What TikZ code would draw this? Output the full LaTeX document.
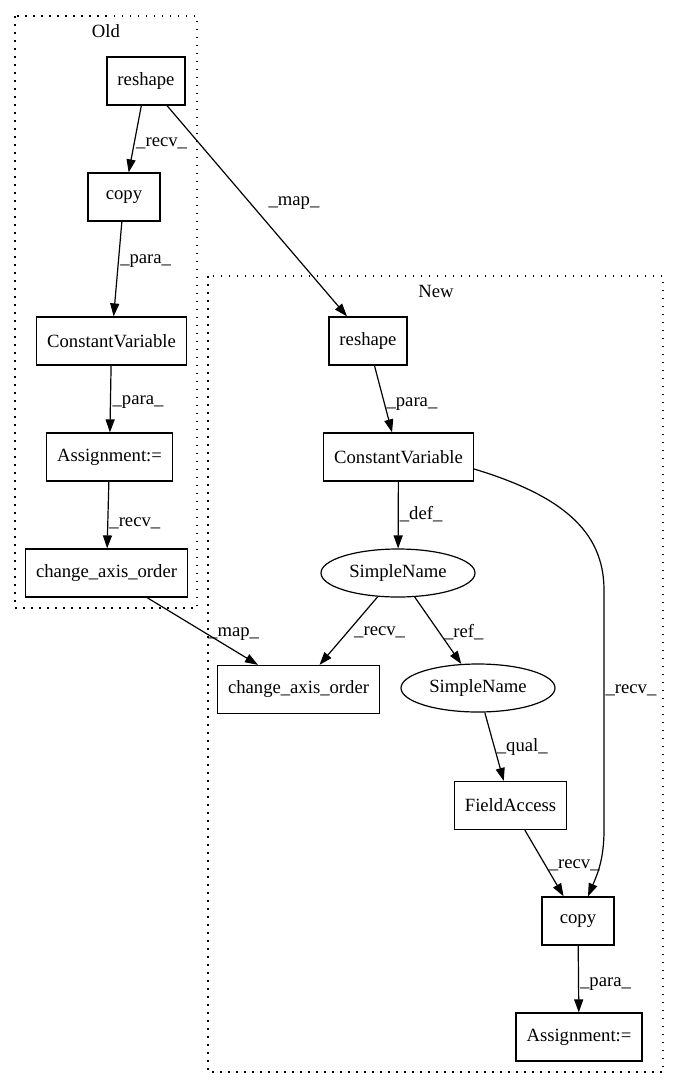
\documentclass[tikz,border=0pt]{standalone}
\usepackage{fontspec}
\setmainfont{Liberation Serif}
\usetikzlibrary{arrows.meta,shapes.geometric}
\newcommand{\gvfont}{\fontsize{18.67}{22}\selectfont}
\tikzset{
    box/.style={draw, rectangle, line width=1.2pt, minimum height=48pt, minimum width=72pt, inner xsep=10.5pt, font=\gvfont},
    oval/.style={draw, ellipse, line width=1.2pt, minimum width=154pt, minimum height=48pt, inner sep=0pt, font=\gvfont},
    lbl/.style={anchor=base west, inner sep=0pt, yshift=-5pt, font=\gvfont},
    title/.style={inner sep=0pt, font=\gvfont},
    cluster/.style={line width=1.3pt, dash pattern=on 1.5pt off 6.5pt},
    conn/.style={-{Triangle[length=13pt,width=9pt]}, line width=1.2pt}
}

\begin{document}
\begin{tikzpicture}[x=1pt,y=-1pt]
            \useasboundingbox (0,0) rectangle (680,1088);
            \draw[cluster] (15,16) rectangle (197,608);
            \draw[cluster] (208,276) rectangle (663,1072);
            \node[title] (oldT) at (106,31) {Old};
            \node[title] (newT) at (436,291) {New};

            \node[box] (oR) at (146,81) {reshape};
            \node[box] (oCp) at (124,197) {copy};
            \node[box] (oCV) at (111.5,341) {ConstantVariable};
            \node[box] (oAs) at (109.5,457) {Assignment:=};
            \node[box] (oCao) at (106.5,573) {change\_axis\_order};

            \node[box] (nR) at (368,341) {reshape};
            \node[box] (nCV) at (398.5,457) {ConstantVariable};
            \node[oval] (nSN1) at (398,573) {SimpleName};
            \node[box] (nCao) at (298.5,689.5) {change\_axis\_order};
            \node[oval] (nSN2) at (478,688) {SimpleName};
            \node[box] (nFA) at (510.5,805.5) {FieldAccess};
            \node[box] (nCp) at (578,921) {copy};
            \node[box] (nAs) at (579,1037) {Assignment:=};

            \draw[conn] (oR) -- node[lbl,pos=.53,xshift=1pt]{\_recv\_} (oCp);
            \draw[conn] (oCp) -- node[lbl,pos=.39,xshift=1pt]{\_para\_} (oCV);
            \draw[conn] (oCV) -- node[lbl,pos=.5,xshift=1.5pt]{\_para\_} (oAs);
            \draw[conn] (oAs) -- node[lbl,pos=.6,xshift=1pt]{\_recv\_} (oCao);
            \draw[conn] (oR) -- node[lbl,pos=.45,xshift=20pt]{\_map\_} (nR);
            \draw[conn] (oCao) -- node[lbl,pos=.51,xshift=4pt]{\_map\_} (nCao);

            \draw[conn] (nR) -- node[lbl,pos=.54,xshift=2pt]{\_para\_} (nCV);
            \draw[conn] (nCV) -- node[lbl,pos=.49,xshift=1pt]{\_def\_} (nSN1);
            \draw[conn] (nSN1) -- node[lbl,pos=.5,xshift=5pt]{\_recv\_} (nCao);
            \draw[conn] (nSN1) -- node[lbl,pos=.53,xshift=4pt]{\_ref\_} (nSN2);
            \draw[conn] (nSN2) -- node[lbl,pos=.5,xshift=2pt]{\_qual\_} (nFA);
            \draw[conn] (nFA) -- node[lbl,pos=.5,xshift=4pt]{\_recv\_} (nCp);
            \draw[conn] (nCV.-9) .. controls (560,495) and (604,530) .. (604,590)
                -- node[lbl,pos=.41,xshift=1pt]{\_recv\_} (604,830)
                .. controls (604,860) and (597,875) .. ([xshift=10pt]nCp.north);
            \draw[conn] (nCp) -- node[lbl,pos=.54,xshift=1pt]{\_para\_} (nAs);
        \end{tikzpicture}
\end{document}
